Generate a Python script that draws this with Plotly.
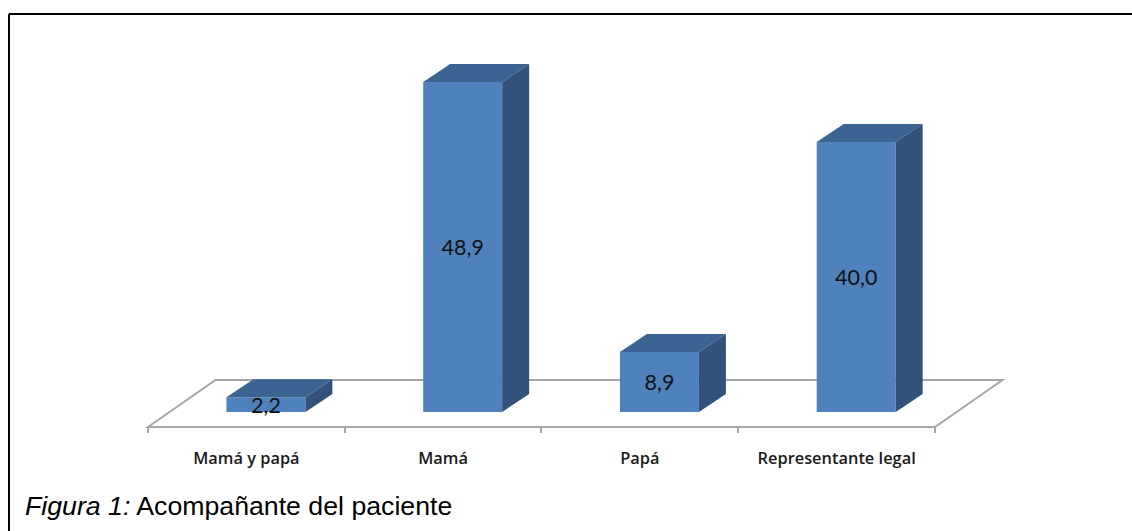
import plotly.graph_objects as go

# Companion of the patient, percentage per group
categories = ["Mamá y papá", "Mamá", "Papá", "Representante legal"]
values = [2.2, 48.9, 8.9, 40.0]

WIDTH, HEIGHT = 1132, 531

# Axis windows: x counts category slots, y is percent with 0 at the foot of the bars
X_RANGE = [-0.7522, 5.0013]
Y_RANGE = [-17.63, 61.04]

# Oblique projection used for the bar bodies and the floor
BAR_WIDTH = 0.4015
BAR_SHIFT = 0.0995
DEPTH_X = 0.137
DEPTH_Y = 2.67
FLOOR_FRONT = -2.22
FLOOR_BACK = 4.74
FLOOR_SKEW = 0.343

FRONT = "#4f81bd"
TOP = "#3c6493"
SIDE = "#32527b"
GRID = "#a6a6a6"

centres = [i + 0.5 + BAR_SHIFT for i in range(len(values))]

fig = go.Figure()

# Floor outline stays behind every bar
fig.add_shape(
    type="path", xref="x", yref="y", layer="below",
    path=f"M 0 {FLOOR_FRONT} L {FLOOR_SKEW} {FLOOR_BACK} L {4 + FLOOR_SKEW} {FLOOR_BACK} "
         f"L 4 {FLOOR_FRONT} Z",
    line=dict(color=GRID, width=2),
)

# Top and side faces of each bar
for c, v in zip(centres, values):
    left, right = c - BAR_WIDTH / 2, c + BAR_WIDTH / 2
    fig.add_trace(go.Scatter(
        x=[left, right, right + DEPTH_X, left + DEPTH_X, left],
        y=[v, v, v + DEPTH_Y, v + DEPTH_Y, v],
        mode="lines", fill="toself", fillcolor=TOP, line=dict(color=TOP, width=0),
        hoverinfo="skip",
    ))
    fig.add_trace(go.Scatter(
        x=[right, right + DEPTH_X, right + DEPTH_X, right, right],
        y=[0, DEPTH_Y, v + DEPTH_Y, v, 0],
        mode="lines", fill="toself", fillcolor=SIDE, line=dict(color=SIDE, width=0),
        hoverinfo="skip",
    ))

# Front faces with their value labels
fig.add_trace(go.Bar(
    x=centres, y=values, width=BAR_WIDTH,
    marker=dict(color=FRONT, line=dict(width=0)),
    texttemplate="%{y:.1f}", textposition="inside", insidetextanchor="middle",
    constraintext="none", textangle=0,
    textfont=dict(family="Lato", size=21.5, color="#111111"),
    hoverinfo="skip",
))

# Frame around the figure
frame = dict(color="black", width=2)
fig.add_shape(type="line", xref="paper", yref="paper", x0=9 / WIDTH, x1=1, y0=1 - 14 / HEIGHT, y1=1 - 14 / HEIGHT, line=frame)
fig.add_shape(type="line", xref="paper", yref="paper", x0=9 / WIDTH, x1=9 / WIDTH, y0=0, y1=1 - 14 / HEIGHT, line=frame)

# Caption below the chart
fig.add_annotation(
    xref="paper", yref="paper", x=23 / WIDTH, y=1 - 505.5 / HEIGHT,
    xanchor="left", yanchor="middle", showarrow=False, align="left",
    text="<i>Figura 1:</i> Acompañante del paciente",
    font=dict(family="Liberation Sans", size=26.7, color="black"),
)

fig.update_layout(
    width=WIDTH, height=HEIGHT, margin=dict(l=0, r=0, t=0, b=0),
    paper_bgcolor="white", plot_bgcolor="white", showlegend=False,
    separators=",.",
    xaxis=dict(
        range=X_RANGE, domain=[0, 1], anchor="free", position=1 - 427 / HEIGHT,
        tickmode="array", tickvals=[i + 0.5 for i in range(len(categories))],
        ticktext=categories, ticks="", showline=False, showgrid=False, zeroline=False,
        ticklabelstandoff=20,
        tickfont=dict(family="Open Sans", size=16.4, color="#1a1a1a", weight=600),
        minor=dict(tickmode="array", tickvals=list(range(len(categories) + 1)),
                   ticks="outside", ticklen=5, tickwidth=2, tickcolor=GRID, showgrid=False),
    ),
    yaxis=dict(range=Y_RANGE, domain=[0, 1], visible=False),
)

fig.write_html("out.html")
